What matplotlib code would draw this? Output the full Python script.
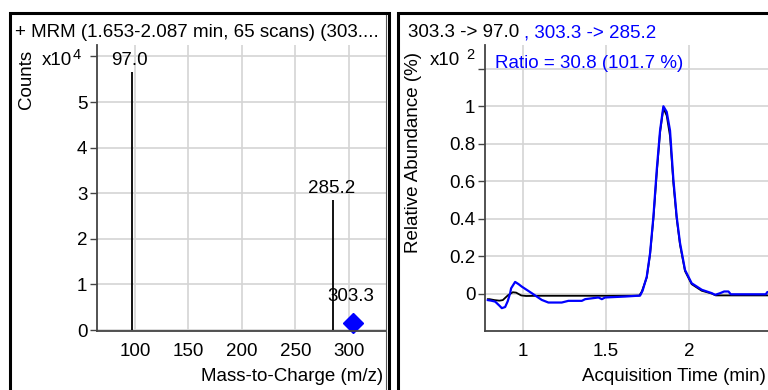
import matplotlib
matplotlib.use("Agg")
import matplotlib.pyplot as plt
import matplotlib.patches as patches
from matplotlib.lines import Line2D

plt.rcParams['font.family'] = ['Liberation Sans', 'DejaVu Sans']

W, H = 768, 390
FS = 13.5

# Espectro MRM (panel izquierdo)
mz_picos = [97.0, 285.2]
cuentas_picos = [5.66, 2.85]          # x10^4
etiquetas_picos = ["97.0", "285.2"]
mz_precursor = 303.3
cuentas_precursor = 0.15
etiqueta_precursor = "303.3"

# Cromatograma (panel derecho), abundancia relativa x10^2
t_negro = [0.79, 0.80, 0.83, 0.86, 0.88, 0.91, 0.94, 0.96, 0.99, 1.02, 1.10, 1.30,
           1.50, 1.70, 1.715, 1.745, 1.765, 1.785, 1.805, 1.825, 1.845, 1.865,
           1.885, 1.905, 1.925, 1.945, 1.975, 2.015, 2.075, 2.135, 2.16, 2.30, 2.50, 2.70]
v_negro = [-0.030, -0.030, -0.035, -0.038, -0.035, -0.010, 0.007, 0.005, -0.010, -0.013,
           -0.012, -0.012, -0.012, -0.011, 0.010, 0.085, 0.21, 0.40, 0.64, 0.86, 0.99, 0.95,
           0.84, 0.59, 0.40, 0.26, 0.12, 0.05, 0.015, 0.000, -0.010, -0.010, -0.010, -0.010]

t_azul = [0.79, 0.81, 0.834, 0.86, 0.874, 0.894, 0.91, 0.924, 0.93, 0.954, 0.975, 0.994,
          1.054, 1.114, 1.154, 1.234, 1.274, 1.355, 1.375, 1.455, 1.475, 1.495, 1.615,
          1.705, 1.72, 1.745, 1.765, 1.785, 1.805, 1.825, 1.845, 1.865, 1.885, 1.905,
          1.925, 1.945, 1.975, 2.015, 2.076, 2.136, 2.156, 2.186, 2.21, 2.236, 2.25,
          2.35, 2.46, 2.47, 2.70]
v_azul = [-0.035, -0.038, -0.043, -0.065, -0.078, -0.072, -0.040, 0.002, 0.028, 0.062,
          0.050, 0.037, 0.002, -0.034, -0.048, -0.048, -0.039, -0.039, -0.030, -0.021,
          -0.030, -0.021, -0.016, -0.011, 0.015, 0.090, 0.215, 0.41, 0.66, 0.87, 1.00,
          0.97, 0.87, 0.61, 0.41, 0.27, 0.126, 0.055, 0.020, 0.002, -0.007, 0.002,
          0.011, 0.011, -0.004, -0.004, -0.004, 0.008, 0.008]

fig = plt.figure(figsize=(W / 100, H / 100), dpi=100)


def px(x, y):
    return x / W, 1 - y / H


def caja(x0, x1, y0, y1):
    return [x0 / W, 1 - y1 / H, (x1 - x0) / W, (y1 - y0) / H]


grid_col = '#d4d4d4'
spine_col = '#444444'


def estilo(ax):
    for s in ['top', 'right']:
        ax.spines[s].set_visible(False)
    for s in ['left', 'bottom']:
        ax.spines[s].set_color(spine_col)
        ax.spines[s].set_linewidth(1.3)
    ax.grid(True, color=grid_col, linewidth=1.2)
    ax.set_axisbelow(True)
    ax.tick_params(axis='x', length=0, pad=9, labelsize=FS)
    ax.tick_params(axis='y', length=5, width=1, color=spine_col, pad=2, labelsize=FS)


# Panel izquierdo
ax1 = fig.add_axes(caja(97, 386, 45, 331))
estilo(ax1)
ax1.set_xlim(64.5, 334.6)
ax1.set_ylim(-0.02, 6.25)
ax1.set_xticks([100, 150, 200, 250, 300])
ax1.set_yticks([0, 1, 2, 3, 4, 5, 6])
ax1.set_yticklabels(["0", "1", "2", "3", "4", "5", ""])
ax1.vlines(mz_picos, 0, cuentas_picos, color='black', linewidth=1.3)
for mz, c, lab in zip(mz_picos, cuentas_picos, etiquetas_picos):
    ax1.annotate(lab, (mz, c), xytext=(-2, 7), textcoords='offset pixels',
                 ha='center', va='baseline', fontsize=FS)
ax1.plot([mz_precursor], [cuentas_precursor], marker='D', color='#0000ff',
         markersize=10, linestyle='none', clip_on=False)
ax1.annotate(etiqueta_precursor, (mz_precursor, cuentas_precursor), xytext=(-2, 22),
             textcoords='offset pixels', ha='center', va='baseline', fontsize=FS)

fig.text(*px(15, 37), "+ MRM (1.653-2.087 min, 65 scans) (303....", fontsize=FS,
         ha='left', va='baseline')
fig.text(*px(26, 79), "Counts", rotation=90, fontsize=FS, ha='center', va='center')
fig.text(*px(42, 65), "x10", fontsize=FS, ha='left', va='baseline')
fig.text(*px(73, 59), "4", fontsize=10.5, ha='left', va='baseline')
fig.text(*px(383, 381), "Mass-to-Charge (m/z)", fontsize=FS, ha='right', va='baseline')

# Panel derecho
ax2 = fig.add_axes(caja(485, 800, 45, 331))
estilo(ax2)
ax2.set_xlim(0.773, 0.773 + 315 / 166.4)
ax2.set_ylim(-0.2, 1.327)
ax2.set_xticks([1, 1.5, 2])
ax2.set_xticklabels(["1", "1.5", "2"])
ax2.set_yticks([0, 0.2, 0.4, 0.6, 0.8, 1.0, 1.2])
ax2.set_yticklabels(["0", "0.2", "0.4", "0.6", "0.8", "1", ""])
ax2.plot(t_negro, v_negro, color='black', linewidth=1.3)
ax2.plot(t_azul, v_azul, color='#0000ff', linewidth=1.6)

fig.text(*px(408, 37), "303.3 -> 97.0", fontsize=FS, ha='left', va='baseline')
fig.text(*px(524, 37), ", 303.3 -> 285.2", fontsize=FS, ha='left', va='baseline',
         color='#0000ff')
fig.text(*px(413, 153), "Relative Abundance (%)", rotation=90, fontsize=FS,
         ha='center', va='center')
fig.text(*px(430, 65), "x10", fontsize=FS, ha='left', va='baseline')
fig.text(*px(466, 59), "2", fontsize=10.5, ha='left', va='baseline')
fig.text(*px(495, 68), "Ratio = 30.8 (101.7 %)", fontsize=FS, ha='left', va='baseline',
         color='#0000ff')
fig.text(*px(582, 381), "Acquisition Time (min)", fontsize=FS, ha='left', va='baseline')

# Marcos de los paneles
fig.patches.append(patches.Rectangle(px(9.5, 400), (389 - 9.5) / W, (400 - 13.5) / H,
                                     transform=fig.transFigure, fill=False,
                                     edgecolor='black', linewidth=2.2))
fig.lines.append(Line2D([386 / W, 386 / W], [1 - 15 / H, 0], transform=fig.transFigure,
                        color='#555555', linewidth=0.8))
fig.patches.append(patches.Rectangle(px(397.5, 400), (800 - 397.5) / W, (400 - 13.5) / H,
                                     transform=fig.transFigure, fill=False,
                                     edgecolor='black', linewidth=2.2))

plt.savefig("out.png", dpi=100)
